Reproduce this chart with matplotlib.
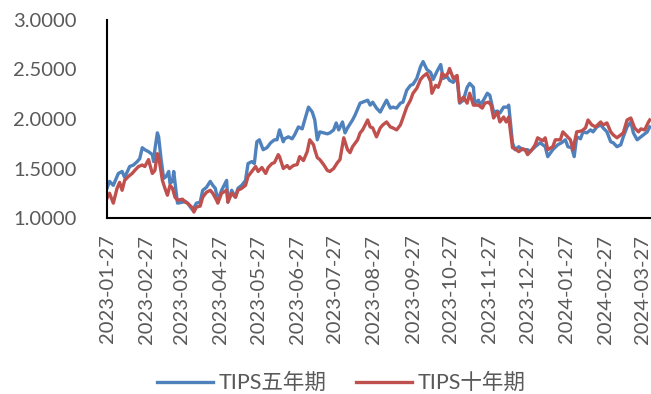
import numpy as np
import pandas as pd
import matplotlib as mpl
mpl.use('Agg')
from matplotlib import pyplot as plt
import matplotlib.dates as mdates

mpl.rcParams['font.family'] = ['Lato', 'Noto Sans CJK SC', 'DejaVu Sans']

# TIPS 5Y
dates_5y = ['2023-01-27', '2023-01-29', '2023-02-01', '2023-02-05', '2023-02-08', '2023-02-10',
            '2023-02-14', '2023-02-17', '2023-02-20', '2023-02-22', '2023-02-24', '2023-02-26',
            '2023-03-01', '2023-03-04', '2023-03-05', '2023-03-06', '2023-03-08', '2023-03-09',
            '2023-03-11', '2023-03-13', '2023-03-15', '2023-03-17', '2023-03-18', '2023-03-20',
            '2023-03-21', '2023-03-23', '2023-03-24', '2023-03-28', '2023-03-30', '2023-04-01',
            '2023-04-05', '2023-04-08', '2023-04-11', '2023-04-13', '2023-04-16', '2023-04-19',
            '2023-04-21', '2023-04-23', '2023-04-25', '2023-04-28', '2023-05-02', '2023-05-03',
            '2023-05-06', '2023-05-09', '2023-05-11', '2023-05-14', '2023-05-17', '2023-05-19',
            '2023-05-22', '2023-05-24', '2023-05-26', '2023-05-28', '2023-05-31', '2023-06-03',
            '2023-06-06', '2023-06-07', '2023-06-09', '2023-06-11', '2023-06-13', '2023-06-16',
            '2023-06-17', '2023-06-20', '2023-06-23', '2023-06-25', '2023-06-28', '2023-07-01',
            '2023-07-03', '2023-07-06', '2023-07-09', '2023-07-11', '2023-07-13', '2023-07-15',
            '2023-07-18', '2023-07-21', '2023-07-23', '2023-07-26', '2023-07-28', '2023-07-30',
            '2023-08-02', '2023-08-04', '2023-08-06', '2023-08-10', '2023-08-12', '2023-08-16',
            '2023-08-18', '2023-08-22', '2023-08-24', '2023-08-26', '2023-08-29', '2023-09-01',
            '2023-09-03', '2023-09-06', '2023-09-09', '2023-09-11', '2023-09-14', '2023-09-17',
            '2023-09-19', '2023-09-22', '2023-09-25', '2023-09-27', '2023-09-30', '2023-10-03',
            '2023-10-05', '2023-10-08', '2023-10-11', '2023-10-13', '2023-10-16', '2023-10-19',
            '2023-10-21', '2023-10-24', '2023-10-26', '2023-10-29', '2023-11-01', '2023-11-03',
            '2023-11-06', '2023-11-09', '2023-11-11', '2023-11-14', '2023-11-15', '2023-11-18',
            '2023-11-19', '2023-11-22', '2023-11-25', '2023-11-27', '2023-11-30', '2023-12-03',
            '2023-12-05', '2023-12-08', '2023-12-11', '2023-12-12', '2023-12-15', '2023-12-17',
            '2023-12-20', '2023-12-23', '2023-12-27', '2023-12-29', '2024-01-02', '2024-01-06',
            '2024-01-10', '2024-01-12', '2024-01-16', '2024-01-20', '2024-01-23', '2024-01-26',
            '2024-01-28', '2024-01-31', '2024-02-02', '2024-02-04', '2024-02-07', '2024-02-09',
            '2024-02-12', '2024-02-15', '2024-02-17', '2024-02-20', '2024-02-23', '2024-02-25',
            '2024-02-28', '2024-03-02', '2024-03-04', '2024-03-07', '2024-03-10', '2024-03-12',
            '2024-03-15', '2024-03-18', '2024-03-20', '2024-03-23', '2024-03-25', '2024-03-28',
            '2024-03-31', '2024-04-02']
tips_5y = [1.30, 1.37, 1.33, 1.45, 1.47, 1.41,
           1.52, 1.535, 1.57, 1.60, 1.71, 1.69,
           1.67, 1.64, 1.57, 1.69, 1.86, 1.82,
           1.59, 1.40, 1.42, 1.47, 1.35, 1.37,
           1.47, 1.25, 1.15, 1.16, 1.17, 1.15,
           1.08, 1.15, 1.16, 1.28, 1.31, 1.37,
           1.33, 1.30, 1.18, 1.28, 1.38, 1.16,
           1.28, 1.21, 1.30, 1.33, 1.38, 1.55,
           1.57, 1.55, 1.77, 1.79, 1.69, 1.71,
           1.76, 1.77, 1.79, 1.79, 1.89, 1.77,
           1.80, 1.82, 1.80, 1.84, 1.92, 1.90,
           1.99, 2.12, 2.07, 1.99, 1.79, 1.87,
           1.86, 1.85, 1.86, 1.89, 1.96, 1.89,
           1.97, 1.86, 1.91, 1.99, 2.04, 2.16,
           2.17, 2.19, 2.14, 2.17, 2.11, 2.07,
           2.12, 2.19, 2.11, 2.12, 2.11, 2.16,
           2.17, 2.29, 2.34, 2.35, 2.41, 2.53,
           2.58, 2.50, 2.47, 2.40, 2.48, 2.55,
           2.41, 2.43, 2.39, 2.37, 2.42, 2.16,
           2.19, 2.32, 2.36, 2.32, 2.16, 2.19,
           2.14, 2.19, 2.26, 2.24, 2.07, 2.08,
           2.06, 2.12, 2.12, 2.14, 1.76, 1.69,
           1.72, 1.69, 1.69, 1.67, 1.72, 1.76,
           1.72, 1.62, 1.69, 1.74, 1.76, 1.79,
           1.72, 1.71, 1.62, 1.82, 1.80, 1.87,
           1.86, 1.89, 1.87, 1.92, 1.94, 1.91,
           1.87, 1.77, 1.76, 1.72, 1.74, 1.82,
           1.92, 1.97, 1.86, 1.79, 1.81, 1.84,
           1.87, 1.92]

# TIPS 10Y
dates_10y = ['2023-01-27', '2023-01-29', '2023-02-01', '2023-02-04', '2023-02-06', '2023-02-08',
             '2023-02-10', '2023-02-13', '2023-02-16', '2023-02-18', '2023-02-21', '2023-02-24',
             '2023-02-26', '2023-03-01', '2023-03-02', '2023-03-04', '2023-03-06', '2023-03-08',
             '2023-03-09', '2023-03-12', '2023-03-14', '2023-03-16', '2023-03-18', '2023-03-20',
             '2023-03-22', '2023-03-24', '2023-03-28', '2023-03-30', '2023-04-01', '2023-04-05',
             '2023-04-06', '2023-04-08', '2023-04-11', '2023-04-13', '2023-04-16', '2023-04-19',
             '2023-04-21', '2023-04-24', '2023-04-25', '2023-04-28', '2023-05-02', '2023-05-03',
             '2023-05-06', '2023-05-09', '2023-05-11', '2023-05-14', '2023-05-17', '2023-05-19',
             '2023-05-22', '2023-05-25', '2023-05-27', '2023-05-30', '2023-06-02', '2023-06-04',
             '2023-06-07', '2023-06-09', '2023-06-12', '2023-06-13', '2023-06-16', '2023-06-19',
             '2023-06-21', '2023-06-24', '2023-06-27', '2023-06-29', '2023-07-02', '2023-07-05',
             '2023-07-07', '2023-07-10', '2023-07-11', '2023-07-13', '2023-07-15', '2023-07-18',
             '2023-07-21', '2023-07-23', '2023-07-26', '2023-07-29', '2023-07-31', '2023-08-03',
             '2023-08-06', '2023-08-08', '2023-08-10', '2023-08-14', '2023-08-16', '2023-08-18',
             '2023-08-22', '2023-08-24', '2023-08-26', '2023-08-29', '2023-09-01', '2023-09-03',
             '2023-09-06', '2023-09-09', '2023-09-11', '2023-09-14', '2023-09-17', '2023-09-19',
             '2023-09-22', '2023-09-25', '2023-09-27', '2023-09-30', '2023-10-03', '2023-10-05',
             '2023-10-08', '2023-10-11', '2023-10-12', '2023-10-15', '2023-10-17', '2023-10-19',
             '2023-10-20', '2023-10-23', '2023-10-25', '2023-10-26', '2023-10-29', '2023-11-01',
             '2023-11-03', '2023-11-06', '2023-11-09', '2023-11-11', '2023-11-14', '2023-11-18',
             '2023-11-21', '2023-11-23', '2023-11-26', '2023-11-28', '2023-11-30', '2023-12-03',
             '2023-12-05', '2023-12-08', '2023-12-10', '2023-12-12', '2023-12-15', '2023-12-17',
             '2023-12-20', '2023-12-23', '2023-12-25', '2023-12-27', '2023-12-31', '2024-01-02',
             '2024-01-04', '2024-01-08', '2024-01-10', '2024-01-12', '2024-01-16', '2024-01-18',
             '2024-01-22', '2024-01-24', '2024-01-27', '2024-01-30', '2024-02-01', '2024-02-04',
             '2024-02-08', '2024-02-11', '2024-02-13', '2024-02-16', '2024-02-19', '2024-02-23',
             '2024-02-25', '2024-02-28', '2024-03-02', '2024-03-04', '2024-03-07', '2024-03-10',
             '2024-03-12', '2024-03-15', '2024-03-18', '2024-03-21', '2024-03-24', '2024-03-26',
             '2024-03-29', '2024-04-01', '2024-04-02']
tips_10y = [1.20, 1.25, 1.15, 1.30, 1.36, 1.28,
            1.38, 1.42, 1.45, 1.48, 1.52, 1.535,
            1.52, 1.59, 1.54, 1.45, 1.48, 1.65,
            1.62, 1.38, 1.30, 1.23, 1.33, 1.30,
            1.21, 1.18, 1.19, 1.16, 1.15, 1.10,
            1.06, 1.11, 1.12, 1.21, 1.26, 1.28,
            1.25, 1.18, 1.15, 1.25, 1.28, 1.16,
            1.25, 1.21, 1.28, 1.30, 1.33, 1.42,
            1.47, 1.52, 1.47, 1.51, 1.45, 1.51,
            1.55, 1.56, 1.64, 1.62, 1.50, 1.53,
            1.50, 1.53, 1.54, 1.62, 1.58, 1.67,
            1.79, 1.74, 1.69, 1.61, 1.59, 1.54,
            1.48, 1.47, 1.50, 1.56, 1.59, 1.81,
            1.69, 1.66, 1.72, 1.79, 1.86, 1.89,
            1.99, 1.92, 1.91, 1.82, 1.91, 1.94,
            1.97, 1.92, 1.91, 1.89, 1.94, 2.01,
            2.12, 2.19, 2.26, 2.31, 2.40, 2.43,
            2.46, 2.38, 2.26, 2.34, 2.32, 2.39,
            2.46, 2.43, 2.47, 2.51, 2.41, 2.44,
            2.17, 2.22, 2.16, 2.26, 2.14, 2.14,
            2.11, 2.16, 2.17, 2.14, 2.01, 2.07,
            1.97, 2.02, 1.97, 2.02, 1.71, 1.70,
            1.67, 1.70, 1.69, 1.64, 1.70, 1.74,
            1.81, 1.78, 1.81, 1.69, 1.72, 1.79,
            1.79, 1.87, 1.83, 1.79, 1.69, 1.87,
            1.88, 1.91, 1.99, 1.94, 1.92, 1.97,
            1.94, 1.96, 1.87, 1.84, 1.81, 1.84,
            1.86, 1.99, 2.01, 1.91, 1.87, 1.90,
            1.89, 1.97, 1.99]

labels = ['TIPS五年期', 'TIPS十年期']
colors = ['#4F81BD', '#C0504D']
tick_dates = pd.date_range('2023-01-01', '2024-03-01', freq='MS') + pd.Timedelta(days=26)

fig = plt.figure(figsize=(6.51, 3.94), dpi=100)
ax = fig.add_axes([107/651, 176/394, 544/651, 198/394])

ax.plot(pd.to_datetime(dates_5y), tips_5y, color=colors[0], lw=2.4, label=labels[0])
ax.plot(pd.to_datetime(dates_10y), tips_10y, color=colors[1], lw=2.4, label=labels[1])

ax.set_ylim(1.0, 3.0)
ax.set_yticks(np.arange(1.0, 3.01, 0.5))
ax.yaxis.set_major_formatter(mpl.ticker.FormatStrFormatter('%.4f'))
ax.set_xlim(pd.Timestamp('2023-01-27'), pd.Timestamp('2024-04-03'))
ax.set_xticks(tick_dates)
ax.xaxis.set_major_formatter(mdates.DateFormatter('%Y-%m-%d'))
ax.tick_params(axis='x', length=0, pad=12, labelsize=14.5, labelcolor='#595959', labelrotation=90)
ax.tick_params(axis='y', length=0, pad=22, labelsize=14.5, labelcolor='#595959')

for s in ['top', 'right']:
    ax.spines[s].set_visible(False)
ax.spines['left'].set_linewidth(1.5)
ax.spines['bottom'].set_linewidth(1.5)

# legend under the date labels
fig.legend(loc='center', bbox_to_anchor=(0.524, 11/394), ncol=2, frameon=False,
           fontsize=15.5, handlelength=2.6, columnspacing=1.4, handletextpad=0.25,
           labelcolor='#595959')

plt.savefig('out.png', dpi=100)
